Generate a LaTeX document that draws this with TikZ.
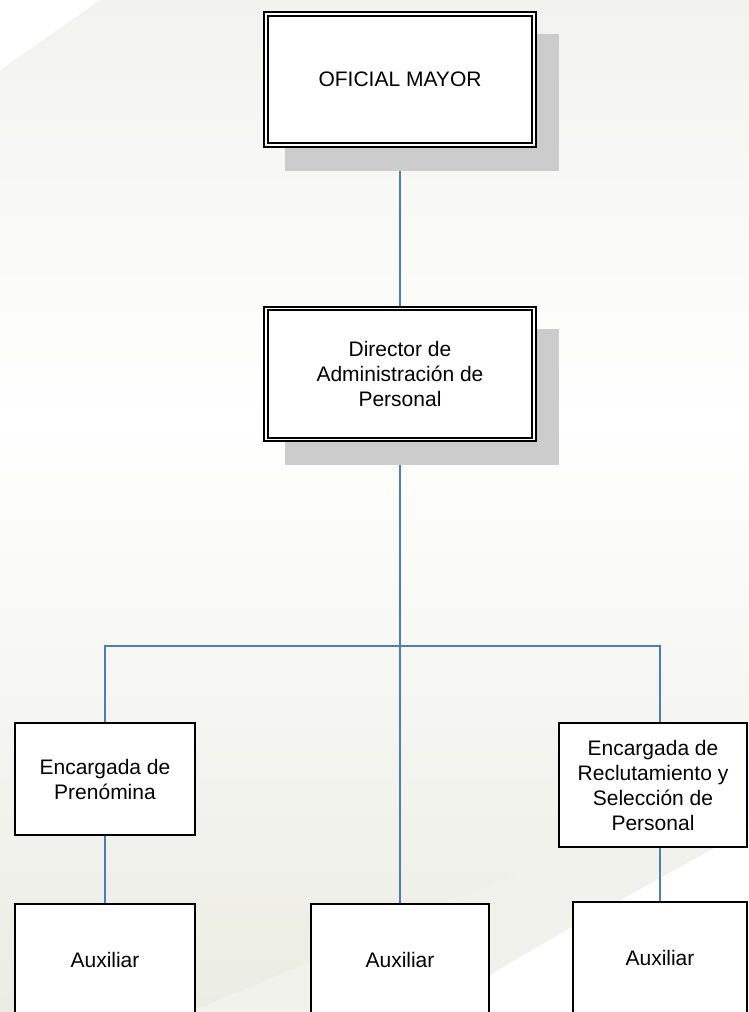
\documentclass[tikz,border=0pt]{standalone}
\usepackage{fontspec}
\setmainfont{Liberation Sans}
\usepackage{tikz}
\usetikzlibrary{shadows}

\definecolor{linea}{HTML}{4A7EBB}
\definecolor{sombra}{HTML}{CCCCCC}
\definecolor{fondoa}{HTML}{F1F2EB}
\definecolor{fondob}{HTML}{EBECE3}
\definecolor{fondoc}{HTML}{F2F3EE}

\pgfdeclarelayer{fondo}
\pgfdeclarelayer{lineas}
\pgfsetlayers{fondo,lineas,main}

\tikzset{
  jefe/.style={draw, line width=2.2pt, double=white, double distance=1.4pt,
    fill=white, minimum width=268pt, minimum height=131pt, align=center,
    font=\fontsize{21}{25}\selectfont,
    general shadow={fill=sombra, draw=sombra, line width=5.8pt,
      shadow xshift=22pt, shadow yshift=-23pt}},
  cargo/.style={draw, line width=2pt, fill=white, minimum width=180pt,
    minimum height=112pt, align=center, font=\fontsize{21}{25}\selectfont},
  enlace/.style={draw=linea, line width=1.5pt}
}

\begin{document}
\begin{tikzpicture}[x=1pt,y=-1pt]
  \useasboundingbox (0,0) rectangle (749,1012);
  \clip (0,0) rectangle (749,1012);

  \begin{pgfonlayer}{fondo}
    \shade[top color=fondoc, bottom color=white] (0,0) rectangle (749,420);
    \shade[top color=white, bottom color=fondob] (0,419) rectangle (749,1012);
    \fill[white] (0,0) -- (100,0) -- (0,70) -- cycle;
    \fill[fondoa] (190,1012) .. controls (350,945) and (560,860) .. (749,765) -- (749,1012) -- cycle;
    \fill[white] (430,1012) .. controls (560,930) and (660,880) .. (749,828) -- (749,1012) -- cycle;
  \end{pgfonlayer}

  \draw (400,79.5) node (om)  [jefe] {OFICIAL MAYOR};
  \draw (400,374)  node (dir) [jefe] {Director de\\Administración de\\Personal};

  \draw (105,779) node (enc1) [cargo] {Encargada de\\Prenómina};
  \draw (653,785) node (enc2) [cargo, minimum width=188pt, minimum height=124pt]
    {Encargada de\\Reclutamiento y\\Selección de\\Personal};

  \draw (105,960) node (aux1) [cargo] {Auxiliar};
  \draw (400,960) node (aux2) [cargo, minimum width=178pt] {Auxiliar};
  \draw (660,958) node (aux3) [cargo, minimum width=174pt] {Auxiliar};

  \coordinate (c) at (400,646);

  \begin{pgfonlayer}{lineas}
    \draw[enlace] (om) -- (dir);
    \draw[enlace] (dir.south) -- (aux2.north);
    \draw[enlace] (enc1.north) |- (c) -| ([xshift=7]enc2.north);
    \draw[enlace] (enc1) -- (aux1);
    \draw[enlace] ([xshift=7]enc2.south) -- (aux3.north);
  \end{pgfonlayer}
\end{tikzpicture}
\end{document}
